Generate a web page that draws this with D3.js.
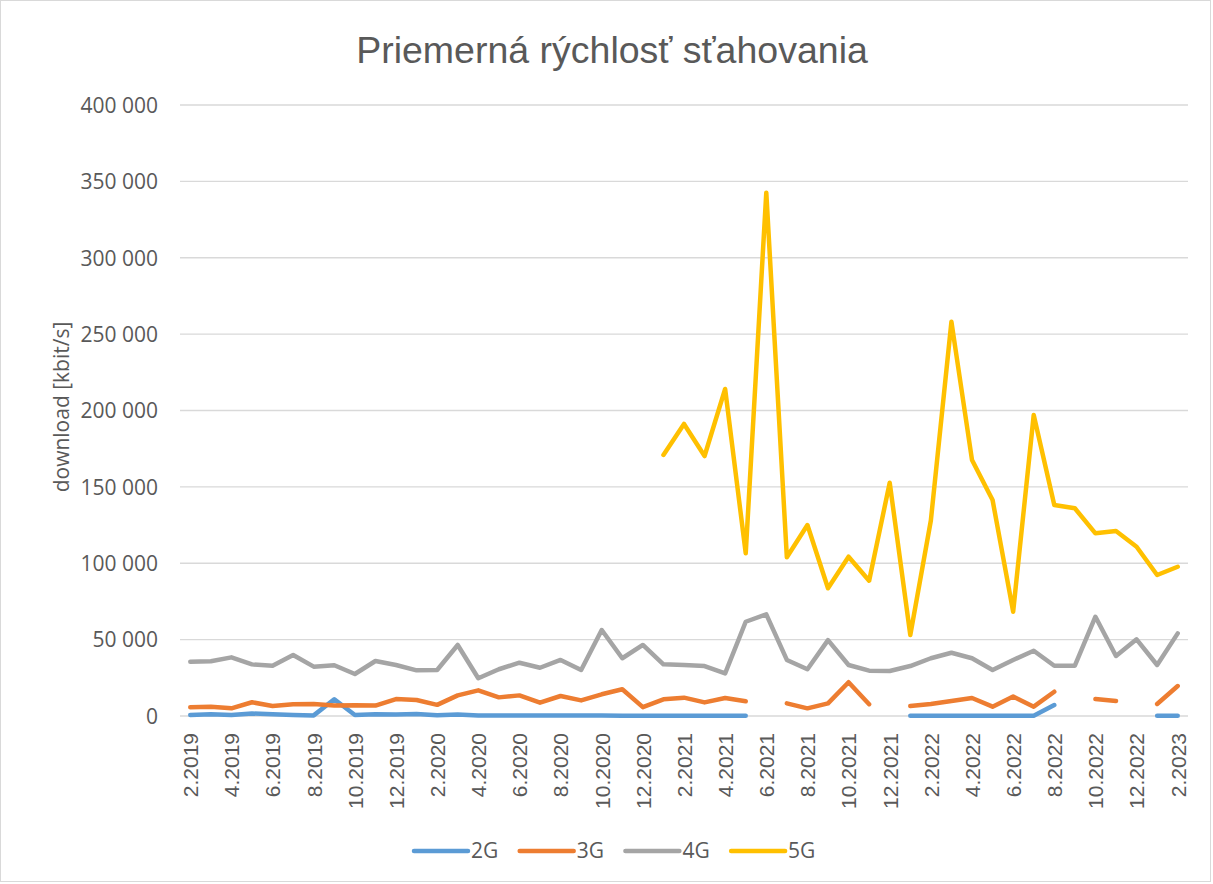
<!DOCTYPE html>
<html>
<head>
<meta charset="utf-8">
<script src="https://cdn.jsdelivr.net/npm/d3@7"></script>
<style>
  body { margin: 0; background: #fff; }
  svg { display: block; font-family: 'Open Sans', 'Noto Sans', sans-serif; }
</style>
</head>
<body>
<div class="chart"></div>
<script>
const width = 1213
const height = 884

// months 2.2019 .. 2.2023
const months = [
  '2.2019', '3.2019', '4.2019', '5.2019', '6.2019', '7.2019', '8.2019', '9.2019', '10.2019', '11.2019', '12.2019',
  '1.2020', '2.2020', '3.2020', '4.2020', '5.2020', '6.2020', '7.2020', '8.2020', '9.2020', '10.2020', '11.2020', '12.2020',
  '1.2021', '2.2021', '3.2021', '4.2021', '5.2021', '6.2021', '7.2021', '8.2021', '9.2021', '10.2021', '11.2021', '12.2021',
  '1.2022', '2.2022', '3.2022', '4.2022', '5.2022', '6.2022', '7.2022', '8.2022', '9.2022', '10.2022', '11.2022', '12.2022',
  '1.2023', '2.2023'
]

const seriesNames = ['2G', '3G', '4G', '5G']

const values2G = [
  700, 1200, 600, 1600, 1200, 700, 400, 11000, 600, 1200,
  1000, 1300, 500, 1000, 400, 300, 300, 300, 300, 300,
  300, 200, 200, 200, 200, 200, 200, 200, null, null,
  null, null, null, null, null, 200, 200, 200, 200, 200,
  200, 200, 7200, null, null, null, null, 200, 200
]

const values3G = [
  5800, 6000, 5000, 9000, 6600, 7700, 7900, 6800, 7000, 6800,
  11100, 10500, 7300, 13500, 16800, 12200, 13500, 8700, 13100, 10200,
  14200, 17500, 5800, 10900, 12000, 8900, 11800, 9600, null, 8300,
  5000, 8300, 22100, 7700, null, 6500, 7900, 9800, 11800, 6100,
  12700, 6100, 15900, null, 11100, 9800, null, 7900, 19600
]

const values4G = [
  35500, 35800, 38400, 33800, 32900, 39900, 32300, 33200, 27500, 36000,
  33400, 29900, 30100, 46500, 24700, 30600, 34900, 31600, 36700, 30100,
  56300, 37800, 46500, 33800, 33400, 32700, 27900, 61700, 66500, 36700,
  30600, 49700, 33400, 29700, 29500, 32700, 37800, 41400, 37800, 30100,
  36700, 42700, 32900, 32900, 65000, 39300, 50200, 33400, 54100
]

const values5G = [
  null, null, null, null, null, null, null, null, null, null,
  null, null, null, null, null, null, null, null, null, null,
  null, null, null, 170900, 191200, 170200, 214100, 106500, 342600, 103900,
  125000, 83600, 104300, 88600, 152700, 53000, 128000, 258100, 167600, 141400,
  68300, 197000, 138100, 136000, 119600, 121100, 110800, 92300, 97700
]

const yTicks = [0, 50000, 100000, 150000, 200000, 250000, 300000, 350000, 400000]

const theme = {
  text: '#595959',
  grid: '#d9d9d9',
  colors: ['#5b9bd5', '#ed7d31', '#a5a5a5', '#ffc000']
}

const plot = { left: 180, right: 1188, top: 105, bottom: 716 }

const series = [values2G, values3G, values4G, values5G].map((vals, i) => ({
  name: seriesNames[i],
  color: theme.colors[i],
  values: vals
}))

const svg = d3.select('.chart')
  .append('svg')
  .attr('width', width)
  .attr('height', height)

svg.append('rect')
  .attr('x', 0.5).attr('y', 0.5)
  .attr('width', width - 3).attr('height', height - 3)
  .attr('fill', '#fff')
  .attr('stroke', theme.grid)

const x = d3.scalePoint()
  .domain(months)
  .range([plot.left, plot.right])
  .padding(0.5)

const y = d3.scaleLinear()
  .domain([0, 400000])
  .range([plot.bottom, plot.top])

// gridlines
svg.append('g')
  .selectAll('line')
  .data(yTicks)
  .join('line')
  .attr('x1', plot.left)
  .attr('x2', plot.right)
  .attr('y1', d => y(d))
  .attr('y2', d => y(d))
  .attr('stroke', theme.grid)
  .attr('stroke-width', 1.3)

// y axis labels
const fmt = d => d3.format(',')(d).replace(/,/g, ' ')
const yAxis = svg.append('g')
  .attr('transform', `translate(${plot.left - 22},0)`)
  .call(d3.axisLeft(y).tickValues(yTicks).tickFormat(fmt).tickSize(0))
yAxis.select('.domain').remove()
yAxis.selectAll('text')
  .attr('x', 0)
  .attr('dy', '0.35em')
  .attr('fill', theme.text)
  .style('font-family', "'Open Sans', sans-serif")
  .style('font-size', '21px')

// x axis labels, every other month
const xAxis = svg.append('g')
  .attr('transform', `translate(0,${plot.bottom})`)
  .call(d3.axisBottom(x).tickValues(months.filter((m, i) => i % 2 === 0)).tickSize(0))
xAxis.select('.domain').remove()
xAxis.selectAll('text')
  .attr('fill', theme.text)
  .style('font-family', "'Liberation Sans', Arial, sans-serif")
  .style('font-size', '21px')
  .attr('text-anchor', 'end')
  .attr('transform', 'rotate(-90)')
  .attr('x', -17)
  .attr('y', 0)
  .attr('dy', '0.35em')

// lines
const line = d3.line()
  .defined(d => d != null)
  .x((d, i) => x(months[i]))
  .y(d => y(d))

svg.append('g')
  .selectAll('path')
  .data(series)
  .join('path')
  .attr('d', d => line(d.values))
  .attr('fill', 'none')
  .attr('stroke', d => d.color)
  .attr('stroke-width', 4.5)
  .attr('stroke-linecap', 'round')
  .attr('stroke-linejoin', 'round')

// title
svg.append('text')
  .attr('x', 612)
  .attr('y', 63)
  .attr('text-anchor', 'middle')
  .attr('fill', theme.text)
  .style('font-family', "'Liberation Sans', Arial, sans-serif")
  .style('font-size', '37.5px')
  .text('Priemerná rýchlosť sťahovania')

// y axis title
svg.append('text')
  .attr('transform', 'translate(69,407) rotate(-90)')
  .attr('text-anchor', 'middle')
  .attr('fill', theme.text)
  .style('font-size', '21px')
  .text('download [kbit/s]')

// legend
const legend = svg.append('g')
  .selectAll('g')
  .data(series)
  .join('g')
  .attr('transform', (d, i) => `translate(${414 + i * 105.7},851)`)

legend.append('line')
  .attr('x1', 0).attr('x2', 54)
  .attr('stroke', d => d.color)
  .attr('stroke-width', 4.5)
  .attr('stroke-linecap', 'round')

legend.append('text')
  .attr('x', 57)
  .attr('dy', '0.35em')
  .attr('fill', theme.text)
  .style('font-size', '21px')
  .text(d => d.name)
</script>
</body>
</html>
